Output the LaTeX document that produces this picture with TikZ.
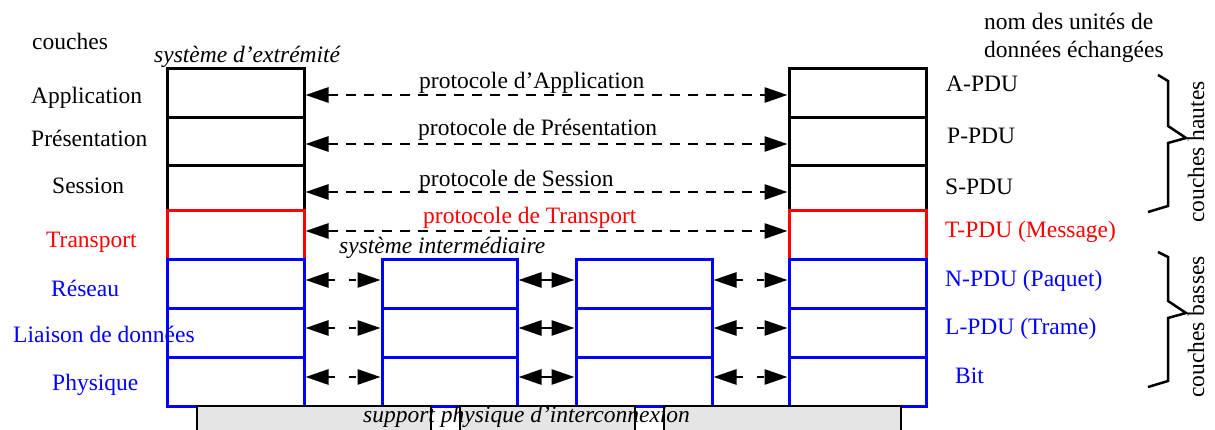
\documentclass[tikz,border=0pt]{standalone}
\usepackage{fontspec}
\setmainfont{Liberation Serif}
\usetikzlibrary{arrows.meta}
\definecolor{pblue}{RGB}{0,0,255}
\definecolor{pred}{RGB}{255,0,0}
\definecolor{pgray}{RGB}{229,229,229}
\begin{document}
\begin{tikzpicture}[x=1pt,y=-1pt,
  lbl/.style={anchor=base west, inner sep=0pt, font=\fontsize{23.5}{28}\selectfont},
  ilbl/.style={anchor=base west, inner sep=0pt, font=\fontsize{23.5}{28}\selectfont\itshape},
  rlbl/.style={anchor=base, inner sep=0pt, rotate=90, font=\fontsize{23.5}{28}\selectfont},
  cell/.style={draw, line width=3pt, inner sep=0pt, outer sep=0pt, anchor=north west},
  >={Triangle[length=23pt,width=15pt]},
  proto/.style={line width=2.8pt, dash pattern=on 10pt off 8pt, <->, shorten <=1.5pt, shorten >=1.5pt},
  hop/.style={line width=2.8pt, dash pattern=on 7pt off 14pt, <->, shorten <=1.5pt, shorten >=1.5pt},
  link/.style={line width=2.8pt, <->, shorten <=1.5pt, shorten >=1.5pt},
  brace/.style={line width=2.5pt, line join=miter},
  support/.style={line width=2pt}
]
\useasboundingbox (0,0) rectangle (1215,430);
\clip (0,0) rectangle (1215,430);

% ---- end system (left)
\node[cell, draw=black, minimum width=137pt, minimum height=49pt] (LA) at (167,69) {};
\node[cell, draw=black, minimum width=137pt, minimum height=48pt] (LP) at (167,118) {};
\node[cell, draw=black, minimum width=137pt, minimum height=45pt] (LS) at (167,166) {};
\node[cell, draw=pred, minimum width=137pt, minimum height=49pt] (LT) at (167,211) {};
\node[cell, draw=pblue, minimum width=137pt, minimum height=48pt] (LN) at (167,260) {};
\node[cell, draw=pblue, minimum width=137pt, minimum height=49pt] (LL) at (167,308) {};
\node[cell, draw=pblue, minimum width=137pt, minimum height=49pt] (LH) at (167,357) {};
% ---- end system (right)
\node[cell, draw=black, minimum width=137pt, minimum height=49pt] (RA) at (789,69) {};
\node[cell, draw=black, minimum width=137pt, minimum height=48pt] (RP) at (789,118) {};
\node[cell, draw=black, minimum width=137pt, minimum height=45pt] (RS) at (789,166) {};
\node[cell, draw=pred, minimum width=137pt, minimum height=49pt] (RT) at (789,211) {};
\node[cell, draw=pblue, minimum width=137pt, minimum height=48pt] (RN) at (789,260) {};
\node[cell, draw=pblue, minimum width=137pt, minimum height=49pt] (RL) at (789,308) {};
\node[cell, draw=pblue, minimum width=137pt, minimum height=49pt] (RH) at (789,357) {};
% ---- intermediate systems
\node[cell, draw=pblue, minimum width=135pt, minimum height=48pt] (AN) at (382,260) {};
\node[cell, draw=pblue, minimum width=135pt, minimum height=49pt] (AL) at (382,308) {};
\node[cell, draw=pblue, minimum width=135pt, minimum height=49pt] (AH) at (382,357) {};
\node[cell, draw=pblue, minimum width=136pt, minimum height=48pt] (BN) at (576,260) {};
\node[cell, draw=pblue, minimum width=136pt, minimum height=49pt] (BL) at (576,308) {};
\node[cell, draw=pblue, minimum width=136pt, minimum height=49pt] (BH) at (576,357) {};

% ---- physical support
\fill[pgray] (197,406) rectangle (901,445);
\draw[support] (197,445) -- (197,406) -- (901,406) -- (901,445);
\fill[white] (431,406) rectangle (460,445);
\fill[white] (635,406) rectangle (664,445);
\draw[support] (431,406) -- (431,445) (460,406) -- (460,445)
               (635,406) -- (635,445) (664,406) -- (664,445);
\draw[pblue, line width=3pt] (432,406) -- (459,406) (636,406) -- (663,406);

% ---- peer protocols
\draw[proto] (LA.east |- 0,95) -- (RA.west |- 0,95);
\draw[proto] (LP.east |- 0,144) -- (RP.west |- 0,144);
\draw[proto] (LS.east |- 0,192) -- (RS.west |- 0,192);
\draw[proto] (LT.east |- 0,231) -- (RT.west |- 0,231);

\draw[hop] (LN.east |- 0,280) -- (AN.west |- 0,280);
\draw[hop] (LL.east |- 0,328) -- (AL.west |- 0,328);
\draw[hop] (LH.east |- 0,377) -- (AH.west |- 0,377);
\draw[link] (AN.east |- 0,280) -- (BN.west |- 0,280);
\draw[link] (AL.east |- 0,328) -- (BL.west |- 0,328);
\draw[link] (AH.east |- 0,377) -- (BH.west |- 0,377);
\draw[hop] (BN.east |- 0,280) -- (RN.west |- 0,280);
\draw[hop] (BL.east |- 0,328) -- (RL.west |- 0,328);
\draw[hop] (BH.east |- 0,377) -- (RH.west |- 0,377);

% ---- braces
\draw[brace] (1158,75) -- (1168,81) -- (1168,126) -- (1186,138) -- (1168,143) -- (1168,206) -- (1148,212);
\draw[brace] (1158,252) -- (1168,257) -- (1168,301) -- (1186,313) -- (1168,318) -- (1168,381) -- (1148,387);

% ---- labels
\node[lbl] (tcouches) at (32,50) {couches};
\node[lbl] (tapp) at (31,104) {Application};
\node[lbl] (tpres) at (31,147) {Présentation};
\node[lbl] (tsess) at (52,194) {Session};
\node[lbl, text=pred] (ttrans) at (46,248) {Transport};
\node[lbl, text=pblue] (tres) at (51,296) {Réseau};
\node[lbl, text=pblue] (tliai) at (13,342) {Liaison de données};
\node[lbl, text=pblue] (tphys) at (52,390) {Physique};

\node[ilbl] (tsysext) at (154,63) {système d’extrémité};
\node[ilbl] (tsysint) at (339,254) {système intermédiaire};
\node[ilbl] (tsupport) at (363,422) {support physique d’interconnexion};

\node[lbl] (papp) at (419,89) {protocole d’Application};
\node[lbl] (ppres) at (418,136) {protocole de Présentation};
\node[lbl] (psess) at (419,187) {protocole de Session};
\node[lbl, text=pred] (ptrans) at (423,224) {protocole de Transport};

\node[lbl] (tnom1) at (984,30) {nom des unités de};
\node[lbl] (tnom2) at (984,58) {données échangées};
\node[lbl] (uA) at (946,92) {A-PDU};
\node[lbl] (uP) at (947,144) {P-PDU};
\node[lbl] (uS) at (945,195) {S-PDU};
\node[lbl, text=pred] (uT) at (945,238) {T-PDU (Message)};
\node[lbl, text=pblue] (uN) at (945,287) {N-PDU (Paquet)};
\node[lbl, text=pblue] (uL) at (945,334) {L-PDU (Trame)};
\node[lbl, text=pblue] (uB) at (955,383) {Bit};

\node[rlbl] (thautes) at (1204,152) {couches hautes};
\node[rlbl] (tbasses) at (1204,327) {couches basses};
\end{tikzpicture}
\end{document}
